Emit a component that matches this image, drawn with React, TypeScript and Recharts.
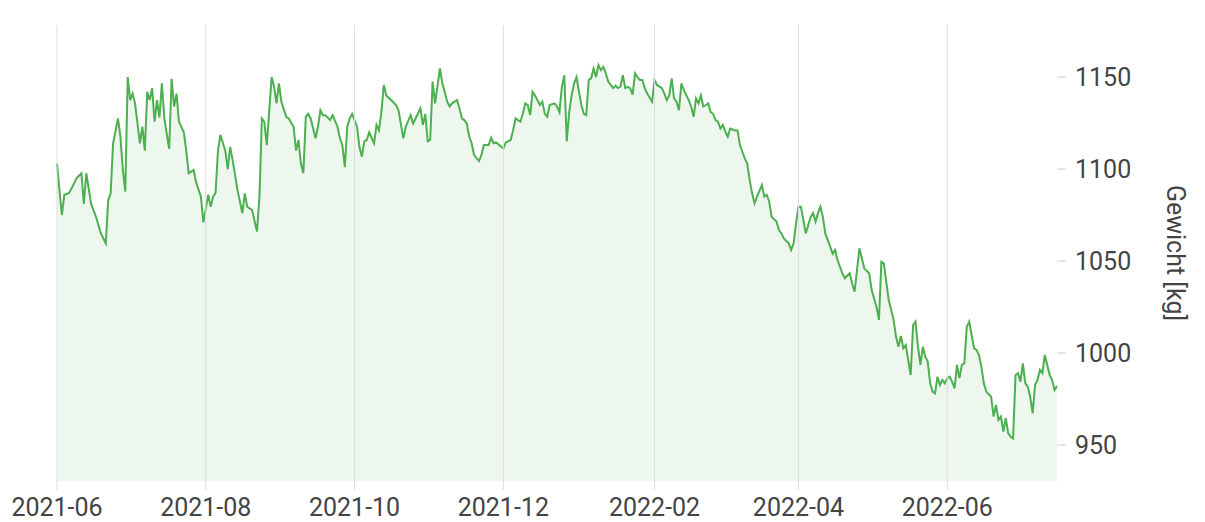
import React from 'react';
import { AreaChart, Area, XAxis, YAxis, ReferenceLine } from 'recharts';

const dates: string[] = [
  // 2021-06
  '2021-06-01','2021-06-02','2021-06-03','2021-06-04','2021-06-06','2021-06-07','2021-06-09','2021-06-11','2021-06-12','2021-06-13','2021-06-15',
  '2021-06-17','2021-06-19','2021-06-21','2021-06-22','2021-06-23','2021-06-24','2021-06-26','2021-06-27','2021-06-28','2021-06-29','2021-06-30',
  // 2021-07
  '2021-07-01','2021-07-02','2021-07-03','2021-07-05','2021-07-06','2021-07-07','2021-07-08','2021-07-09','2021-07-10','2021-07-11','2021-07-12',
  '2021-07-13','2021-07-14','2021-07-15','2021-07-17','2021-07-18','2021-07-19','2021-07-20','2021-07-21','2021-07-23','2021-07-24','2021-07-25',
  '2021-07-27','2021-07-28','2021-07-30','2021-07-31',
  // 2021-08
  '2021-08-02','2021-08-03','2021-08-04','2021-08-05','2021-08-06','2021-08-07','2021-08-09','2021-08-10','2021-08-11','2021-08-12','2021-08-14',
  '2021-08-16','2021-08-17','2021-08-18','2021-08-20','2021-08-22','2021-08-23','2021-08-24','2021-08-25','2021-08-26','2021-08-28','2021-08-29',
  '2021-08-30','2021-08-31',
  // 2021-09
  '2021-09-01','2021-09-03','2021-09-04','2021-09-06','2021-09-07','2021-09-08','2021-09-09','2021-09-10','2021-09-11','2021-09-12','2021-09-13',
  '2021-09-15','2021-09-16','2021-09-17','2021-09-18','2021-09-19','2021-09-21','2021-09-22','2021-09-24','2021-09-25','2021-09-26','2021-09-27',
  '2021-09-28','2021-09-29','2021-09-30',
  // 2021-10
  '2021-10-02','2021-10-03','2021-10-04','2021-10-05','2021-10-06','2021-10-07','2021-10-09','2021-10-10','2021-10-11','2021-10-12','2021-10-13',
  '2021-10-14','2021-10-16','2021-10-18','2021-10-19','2021-10-21','2021-10-22','2021-10-24','2021-10-25','2021-10-26','2021-10-28','2021-10-29',
  '2021-10-30','2021-10-31',
  // 2021-11
  '2021-11-01','2021-11-02','2021-11-03','2021-11-05','2021-11-06','2021-11-08','2021-11-09','2021-11-10','2021-11-12','2021-11-13','2021-11-14',
  '2021-11-15','2021-11-16','2021-11-17','2021-11-18','2021-11-19','2021-11-21','2021-11-22','2021-11-23','2021-11-25','2021-11-26','2021-11-27',
  '2021-11-28','2021-11-29',
  // 2021-12
  '2021-12-01','2021-12-02','2021-12-04','2021-12-05','2021-12-06','2021-12-08','2021-12-09','2021-12-10','2021-12-11','2021-12-12','2021-12-13',
  '2021-12-14','2021-12-16','2021-12-17','2021-12-18','2021-12-19','2021-12-20','2021-12-22','2021-12-23','2021-12-24','2021-12-25','2021-12-26',
  '2021-12-27','2021-12-28','2021-12-29','2021-12-30','2021-12-31',
  // 2022-01
  '2022-01-01','2022-01-02','2022-01-03','2022-01-04','2022-01-05','2022-01-06','2022-01-07','2022-01-08','2022-01-09','2022-01-10','2022-01-11',
  '2022-01-12','2022-01-13','2022-01-14','2022-01-15','2022-01-16','2022-01-17','2022-01-18','2022-01-19','2022-01-20','2022-01-21','2022-01-22',
  '2022-01-23','2022-01-24','2022-01-25','2022-01-26','2022-01-27','2022-01-28','2022-01-29','2022-01-31',
  // 2022-02
  '2022-02-01','2022-02-02','2022-02-04','2022-02-05','2022-02-06','2022-02-07','2022-02-08','2022-02-09','2022-02-10','2022-02-11','2022-02-12',
  '2022-02-13','2022-02-15','2022-02-16','2022-02-17','2022-02-18','2022-02-19','2022-02-20','2022-02-21','2022-02-22','2022-02-23','2022-02-24',
  '2022-02-25','2022-02-26','2022-02-27','2022-02-28',
  // 2022-03
  '2022-03-01','2022-03-02','2022-03-03','2022-03-04','2022-03-06','2022-03-07','2022-03-08','2022-03-09','2022-03-10','2022-03-11','2022-03-12',
  '2022-03-13','2022-03-14','2022-03-15','2022-03-17','2022-03-18','2022-03-19','2022-03-20','2022-03-21','2022-03-23','2022-03-24','2022-03-25',
  '2022-03-26','2022-03-28','2022-03-29','2022-03-30','2022-03-31',
  // 2022-04
  '2022-04-01','2022-04-02','2022-04-03','2022-04-04','2022-04-06','2022-04-07','2022-04-08','2022-04-09','2022-04-10','2022-04-11','2022-04-12',
  '2022-04-14','2022-04-15','2022-04-16','2022-04-17','2022-04-19','2022-04-20','2022-04-22','2022-04-23','2022-04-24','2022-04-25','2022-04-26',
  '2022-04-27','2022-04-28','2022-04-30',
  // 2022-05
  '2022-05-01','2022-05-03','2022-05-04','2022-05-05','2022-05-06','2022-05-07','2022-05-08','2022-05-10','2022-05-11','2022-05-12','2022-05-13',
  '2022-05-14','2022-05-15','2022-05-16','2022-05-17','2022-05-18','2022-05-19','2022-05-20','2022-05-21','2022-05-22','2022-05-23','2022-05-24',
  '2022-05-25','2022-05-26','2022-05-27','2022-05-28','2022-05-29','2022-05-30','2022-05-31',
  // 2022-06
  '2022-06-01','2022-06-02','2022-06-03','2022-06-04','2022-06-05','2022-06-06','2022-06-07','2022-06-08','2022-06-09','2022-06-10','2022-06-11',
  '2022-06-12','2022-06-13','2022-06-14','2022-06-15','2022-06-16','2022-06-17','2022-06-19','2022-06-20','2022-06-21','2022-06-22','2022-06-23',
  '2022-06-24','2022-06-25','2022-06-26','2022-06-27','2022-06-28','2022-06-29','2022-06-30',
  // 2022-07
  '2022-07-01','2022-07-02','2022-07-03','2022-07-04','2022-07-05','2022-07-06','2022-07-07','2022-07-08','2022-07-09','2022-07-10','2022-07-11',
  '2022-07-12','2022-07-13','2022-07-14','2022-07-15','2022-07-16',
];

const weights: number[] = [
  // 2021-06
  1103, 1088.6, 1075, 1086, 1087, 1089.5, 1095, 1097.7, 1081, 1097.7, 1081,
  1074, 1065, 1059.6, 1083, 1086.8, 1114, 1127.5, 1117.6, 1099.5, 1087.7, 1150,
  // 2021-07
  1137.5, 1141, 1135.7, 1114, 1123, 1110, 1142, 1137.5, 1144, 1125.7, 1137.5,
  1128, 1146.6, 1127.5, 1111, 1149, 1134, 1141, 1125.7, 1120, 1110, 1097.7,
  1099.5, 1093, 1085, 1071,
  // 2021-08
  1086, 1079.5, 1085, 1087, 1110, 1118.5, 1110, 1100, 1112, 1105, 1088.6,
  1076, 1086.8, 1079.5, 1077.7, 1066, 1085, 1127.5, 1125.7, 1113, 1150, 1144.7,
  1135.7, 1146.6,
  // 2021-09
  1136.6, 1128.4, 1127.5, 1123, 1110, 1115.8, 1103, 1097.7, 1128.4, 1130, 1127.5,
  1116.7, 1123, 1132, 1129.3, 1129.3, 1126.6, 1129.3, 1123, 1116.7, 1113, 1101,
  1123, 1127.5, 1130,
  // 2021-10
  1123, 1112, 1106.7, 1115, 1115.8, 1120, 1114, 1124, 1121, 1131, 1145.7,
  1140, 1137.5, 1134.8, 1132, 1116.7, 1123, 1129.3, 1124.8, 1127.5, 1133, 1124,
  1130, 1115,
  // 2021-11
  1115.8, 1147.5, 1135.7, 1154.7, 1146.6, 1136.6, 1134, 1135.7, 1137.5, 1133, 1127.5,
  1126.6, 1124.8, 1117.6, 1114, 1107.6, 1104.3, 1107.6, 1113, 1113, 1117, 1114,
  1114.5, 1113.4,
  // 2021-12
  1111.2, 1114.5, 1115.8, 1121, 1127.5, 1125.7, 1130, 1135.7, 1134.8, 1129.3, 1142,
  1140, 1134.8, 1136.6, 1130, 1128.4, 1134.8, 1135.7, 1134, 1131, 1144.7, 1151,
  1115, 1131, 1140, 1146.6, 1150,
  // 2022-01
  1142, 1134.8, 1130, 1129.3, 1148.4, 1149.3, 1154.7, 1150, 1156.5, 1153.8, 1155.6,
  1152, 1147.5, 1145.7, 1144, 1145.3, 1144, 1144.7, 1151, 1144, 1144.7, 1144,
  1140.5, 1152, 1150, 1148.4, 1148.4, 1144, 1141, 1136.6,
  // 2022-02
  1148.4, 1145.7, 1144, 1141, 1137.5, 1140, 1149.3, 1138.4, 1136.6, 1132, 1146.6,
  1143, 1137.5, 1134, 1128.4, 1138.4, 1135.7, 1140, 1134, 1134.8, 1135.7, 1131,
  1130, 1126.6, 1125.7, 1122,
  // 2022-03
  1124, 1120.3, 1117.6, 1122, 1121, 1121, 1113, 1109.4, 1105.8, 1103, 1094,
  1086.8, 1081.4, 1085, 1091.3, 1085, 1086, 1082.2, 1074, 1071.4, 1066.8, 1065,
  1062.3, 1059.6, 1056, 1059.6, 1070.5,
  // 2022-04
  1079.5, 1079.5, 1072.3, 1065, 1074, 1076, 1071.4, 1076, 1079.5, 1074, 1065,
  1057.8, 1054, 1056, 1050.5, 1043.3, 1040.6, 1043.3, 1037.9, 1033.3, 1045, 1057,
  1051.5, 1046, 1043.3,
  // 2022-05
  1034.2, 1025, 1018, 1049.6, 1048.7, 1038.7, 1028.8, 1018, 1008.9, 1003.4, 1009.2,
  1002.5, 1004.3, 996.2, 988, 1015.2, 1017, 1003.4, 993.5, 1003.4, 998, 995.3,
  983.5, 979, 978, 987.1, 982.6, 985.3, 983.5,
  // 2022-06
  986.3, 987.1, 984.4, 980.8, 993.5, 986.3, 993.5, 994.4, 1014.3, 1017, 1009.8,
  1002.5, 1001.6, 998.9, 992.6, 983.5, 979, 976.2, 965.4, 971.7, 963.6, 965.4,
  957.2, 964.5, 956.3, 954.5, 953.6, 988, 989,
  // 2022-07
  984.4, 994.4, 983.5, 981.7, 976.2, 967.2, 982.6, 985.3, 990.8, 989, 998.9,
  993.5, 988, 985.3, 979.9, 982,
];

const xTickDates = ['2021-06-01', '2021-08-01', '2021-10-01', '2021-12-01', '2022-02-01', '2022-04-01', '2022-06-01'];
const yTicks = [950, 1000, 1050, 1100, 1150];
const yDomain: [number, number] = [930.4, 1178.3];
const yTitle = 'Gewicht [kg]';

const toTime = (s: string) => Date.parse(s + 'T00:00:00Z');
const data = dates.map((d, i) => ({ t: toTime(d), w: weights[i] }));
const xTicks = xTickDates.map(toTime);
const xDomain: [number, number] = [toTime(dates[0]), toTime(dates[dates.length - 1])];

const fmtMonth = (v: number) => {
  const d = new Date(v);
  const m = d.getUTCMonth() + 1;
  return `${d.getUTCFullYear()}-${m < 10 ? '0' : ''}${m}`;
};

const FONT = 'Roboto, "Noto Sans", sans-serif';
const TEXT = '#444444';
const GRID = '#dcdcdc';
const GREEN = '#4caf50';

export default function App() {
  return (
    <div style={{ position: 'absolute', left: 0, top: 0, width: 1205, height: 522, background: '#fff', fontFamily: FONT }}>
      <AreaChart width={1205} height={522} data={data} margin={{ top: 25, right: 0, bottom: 0, left: 57 }}>
        <XAxis
          dataKey="t"
          type="number"
          scale="time"
          domain={xDomain}
          ticks={xTicks}
          tickFormatter={fmtMonth}
          axisLine={false}
          tickLine={{ stroke: GRID }}
          tickSize={9}
          tickMargin={8}
          height={41}
          interval={0}
          tick={{ fill: TEXT, fontSize: 25, fontFamily: FONT }}
        />
        <YAxis
          orientation="right"
          domain={yDomain}
          ticks={yTicks}
          allowDataOverflow={true}
          axisLine={false}
          tickLine={{ stroke: '#cccccc' }}
          tickSize={9}
          tickMargin={9}
          width={148}
          tick={{ fill: TEXT, fontSize: 25, fontFamily: FONT }}
          label={{ value: yTitle, angle: 90, position: 'center', dx: 45, style: { fill: TEXT, fontSize: 25, fontFamily: FONT } }}
        />
        {xTicks.map((t) => (
          <ReferenceLine key={t} x={t} stroke={GRID} strokeWidth={1} />
        ))}
        <Area
          type="linear"
          dataKey="w"
          stroke={GREEN}
          strokeWidth={2}
          fill={GREEN}
          fillOpacity={0.1}
          dot={false}
          activeDot={false}
          isAnimationActive={false}
        />
      </AreaChart>
    </div>
  );
}
